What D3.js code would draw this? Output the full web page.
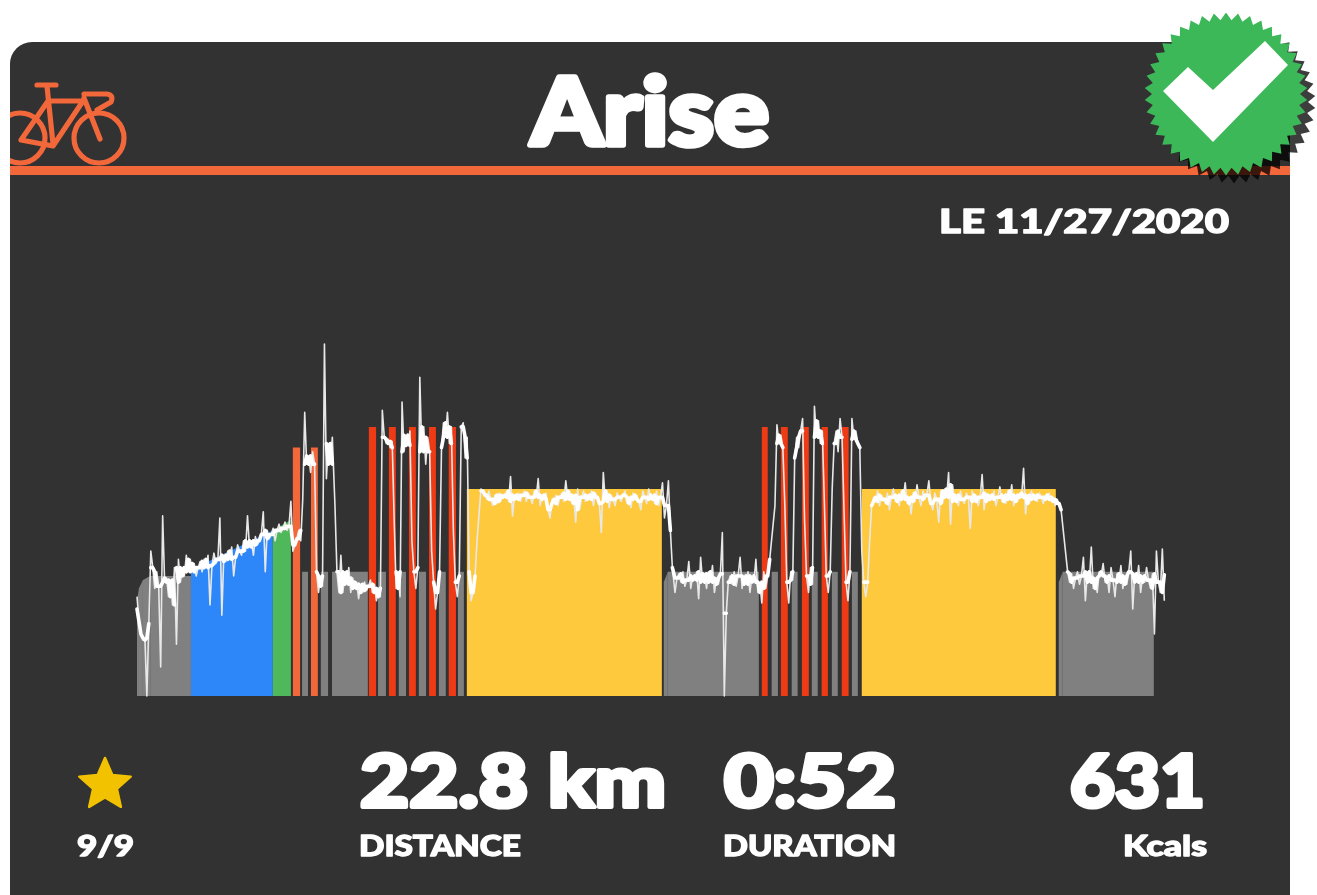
<!DOCTYPE html>
<html><head><meta charset="utf-8">
<script src="https://cdn.jsdelivr.net/npm/d3@7"></script>
<style>html,body{margin:0;padding:0;background:#fff;overflow:hidden}svg{display:block}</style>
</head><body><svg id="c" width="1317" height="895"></svg>
<script>
// workout blocks: seconds, and power as % of FTP
const blockStart=[0,6,18,40,164,413,474,502,529,559,593,705,733,766,796,827,857,888,918,948,976,1003,1602,1614,1900,1930,1958,1991,2022,2052,2082,2113,2143,2174,2204,2803,2815];
const blockEnd=[6,18,40,164,413,468,496,520,550,581,702,727,757,787,818,848,879,909,939,970,994,1596,1614,1891,1918,1949,1979,2009,2043,2070,2101,2131,2164,2192,2794,2815,3092];
const blockFrom=[46,52,56,58,61,80,120,60,120,60,60,130,60,130,60,130,60,130,60,130,60,100,55,60,130,60,130,60,130,60,130,60,130,60,100,55,60];
const blockTo=[52,56,58,58,80,85,120,60,120,60,60,130,60,130,60,130,60,130,60,130,60,100,60,60,130,60,130,60,130,60,130,60,130,60,100,60,60];
const blockZone=["rest","rest","rest","rest","blue","green","orange","rest","orange","rest","rest","red","rest","red","rest","red","rest","red","rest","red","rest","yellow","rest","rest","red","rest","red","rest","red","rest","red","rest","red","rest","yellow","rest","rest"];
const zoneNames=["rest","blue","green","yellow","orange","red"];
const zoneColors=["#808080","#2f87f8","#4fb85a","#fec93c","#f2673a","#ee3a14"];

// ridden power, one reading every 6 s, % of FTP
const rampStart=0;
const powerRamp=[48,36,30,27,28,0,35,70,62,52,60,53,14,87,55,57,48,56,44,62,25,66,55,62,58,68,60,66,
60,64,58,62,65,60,66,62,68,44,63,69,64,66,86,39,68,65,70,66,72,58,67,73,70,68,75,70,87,72,75,68,77,73,75,78,89,60,80,76,78,81,75,80,83,79,81,84,80,82,94,
70,73,76,80,75,95,137,112,116,108,118,112,60,50,58,53,170,105,122,112,125];
const setAStart=602;
const powerSetA=[92,60,50,68,50,60,54,62,50,57,52,55,47,54,50,55,51,53,56,50,54,46,52,48,138,125,122,124,120,123,85,52,60,48,142,118,126,121,128,75,60,52,62,154,118,130,112,125,118,70,55,42,50,60,120,132,125,137,122,130,80,55,48,58,130,132,115,125,60,46,50,58,75];
const steadyAStart=1046;
const powerSteadyA=[100,99,97,95,99,95,92,97,93,98,94,97,96,99,94,106,87,97,95,98,94,97,99,94,98,96,93,99,96,105,92,97,95,98,90,86,95,93,97,92,96,98,94,104,95,99,93,97,84,100,90,96,99,94,97,95,99,92,98,96,93,79,108,94,99,91,97,95,92,98,96,94,97,99,93,96,91,98,95,97,94,90,99,96,93,100,95,97,93,99,92,96,103,86,92,104,80,62];
const restAStart=1636;
const powerRestA=[50,57,59,55,60,53,56,65,52,58,56,60,47,67,55,59,52,60,55,63,50,57,54,59,79,0,40,55,58,54,60,53,58,67,52,58,54,60,50,58,55,66,50,55,45,60,52,58,66];
const setBStart=1940;
const powerSetB=[92,131,122,126,120,92,55,45,60,56,115,125,120,128,134,85,58,50,62,54,140,125,133,122,128,95,58,50,60,100,122,128,118,134,125,90,55,46,60,134,124,128,122,120,70,55,48,55,75,92];
const steadyBStart=2240;
const powerSteadyB=[96,94,99,92,97,95,93,98,90,96,100,94,97,92,99,95,103,93,96,88,98,94,102,96,92,99,95,97,104,93,90,98,95,84,99,93,100,96,108,83,102,94,97,92,99,95,93,98,96,81,99,94,97,92,96,107,90,98,94,97,95,99,92,96,101,94,97,93,99,95,102,92,97,94,98,96,110,88,97,93,99,95,97,94,98,96,93,97,95,98,94,96,92,95,93,90];
const restBStart=2830;
const powerRestB=[60,55,59,52,57,60,54,58,67,46,60,55,72,52,57,50,60,58,64,55,58,50,62,56,48,59,55,63,52,58,54,60,70,42,59,55,63,50,58,55,62,56,52,59,30,70,55,50,71,46];

const title="Arise", dateText="LE 11/27/2020";
const statValues=["22.8 km","0:52","631"], statLabels=["DISTANCE","DURATION","Kcals"], starsText="9/9";

const svg=d3.select("#c");
const FONT="Lato, 'Open Sans', sans-serif";
const x=d3.scaleLinear().domain([0,3120]).range([137,1163]);
const y=d3.scaleLinear().domain([0,100]).range([696,489]);
const zone=d3.scaleOrdinal(zoneNames,zoneColors);

const defs=svg.append("defs");
defs.append("clipPath").attr("id","card").append("rect").attr("x",10).attr("y",42).attr("width",1280).attr("height",890).attr("rx",22);
defs.append("filter").attr("id","soft").attr("x","-5%").attr("y","-5%").attr("width","110%").attr("height","110%")
  .append("feGaussianBlur").attr("stdDeviation",0.65);

const root=svg.append("g").attr("filter","url(#soft)");
root.append("rect").attr("x",10).attr("y",42).attr("width",1280).attr("height",890).attr("rx",22).attr("fill","#323232");
root.append("rect").attr("x",10).attr("y",166).attr("width",1280).attr("height",9).attr("fill","#f2673a");

// bike icon
const bike=root.append("g").attr("clip-path","url(#card)").attr("fill","none").attr("stroke","#f2673a").attr("stroke-width",5.2).attr("stroke-linejoin","round").attr("stroke-linecap","round");
[[20,138],[99,138]].forEach(c=>bike.append("circle").attr("cx",c[0]).attr("cy",c[1]).attr("r",25));
bike.append("path").attr("d","M37 85H56 M47 86L53 144 M21 140L48 101H83L53 146Z M84 98L100 139 M84 94H107Q114 95 111 102L97 110");

// blocks
const area=d3.area().x(d=>x(d.t)).y0(y(0)).y1(d=>y(d.p));
root.append("g").selectAll("path").data(blockStart.map((s,i)=>i)).join("path")
  .attr("d",i=>area([{t:blockStart[i],p:blockFrom[i]},{t:blockEnd[i],p:blockTo[i]}]))
  .attr("fill",i=>zone(blockZone[i]));

// power line: raw readings thin, with a thicker running median on the plateaus only
const pieces=[[rampStart,powerRamp],[setAStart,powerSetA],[steadyAStart,powerSteadyA],[restAStart,powerRestA],[setBStart,powerSetB],[steadyBStart,powerSteadyB],[restBStart,powerRestB]];
const pts=pieces.flatMap(([s,a])=>a.map((p,i)=>({t:s+i*6,p})));
const core=pts.map((d,i)=>({t:d.t,p:d3.median(pts.slice(Math.max(0,i-1),i+2),e=>e.p)}));
const line=d3.line().x(d=>x(d.t)).y(d=>y(d.p));
const runs=[];let run=[];
core.forEach((d,i)=>{ if(i&&Math.abs(d.p-core[i-1].p)>14){runs.push(run);run=[];} run.push(d); });
runs.push(run);
root.append("path").attr("d",line(pts)).attr("fill","none").attr("stroke","#e8e8e8").attr("stroke-width",1.6).attr("stroke-linejoin","round");
root.append("path").attr("d",runs.filter(r=>r.length>1).map(line).join("")).attr("fill","none").attr("stroke","#fff").attr("stroke-width",3.6).attr("stroke-linejoin","round").attr("stroke-linecap","round");

function label(t,px,py,size,anchor,sw,len){
  const n=root.append("text").text(t).attr("x",px).attr("y",py).attr("font-family",FONT).attr("font-weight",900).attr("font-size",size)
   .attr("text-anchor",anchor).attr("fill","#fff").attr("stroke","#fff").attr("stroke-width",sw).attr("stroke-linejoin","round");
  if(len) n.attr("textLength",len).attr("lengthAdjust","spacingAndGlyphs");
  return n;
}
label(title,531,145,94,"start",5.5,238);
label(dateText,939,233,33,"start",1.4,290);
const sx=[360,724,1070], sw=[306,172,135], lx=[359,723,1123], lw=[162,173,84];
statValues.forEach((t,i)=>label(t,sx[i],807,72,"start",4.2,sw[i]));
statLabels.forEach((t,i)=>label(t,lx[i],856,28,"start",1.3,lw[i]));
label(starsText,77,856,28,"start",1.3,57);

// star
const star=d3.range(10).map(i=>{const r=i%2?12.5:27,a=i*Math.PI/5;return [r*Math.sin(a),-r*Math.cos(a)];});
root.append("path").attr("transform","translate(105,785)").attr("d",d3.line().curve(d3.curveLinearClosed)(star)).attr("fill","#f2c200").attr("stroke","#f2c200").attr("stroke-width",2.5).attr("stroke-linejoin","round");

// badge
const teeth=d3.range(84).map(i=>{const r=i%2?74:81.5,a=i*Math.PI/42;return [r*Math.sin(a),-r*Math.cos(a)];});
const badge=d3.line().curve(d3.curveLinearClosed)(teeth);
defs.append("clipPath").attr("id","top").append("rect").attr("x",1100).attr("y",13).attr("width",217).attr("height",200);
const bg=root.append("g").attr("clip-path","url(#top)");
bg.append("path").attr("transform","translate(1234,102)").attr("d",badge).attr("fill","#000").attr("fill-opacity",.76);
bg.append("path").attr("transform","translate(1226,94)").attr("d",badge).attr("fill","#3cb859");
bg.append("path").attr("d","M1163 91L1188 67L1213 90L1265 41L1288 65L1213 142Z").attr("fill","#fff");
</script></body></html>
